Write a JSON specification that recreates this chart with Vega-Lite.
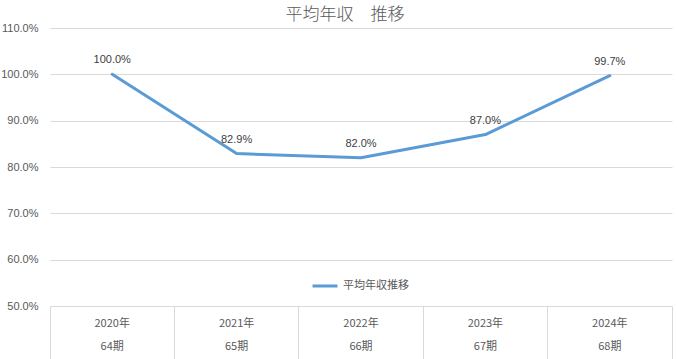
{
  "$schema": "https://vega.github.io/schema/vega-lite/v6.json",
  "width": 622,
  "height": 278,
  "autosize": {"type": "none"},
  "padding": {"left": 50, "top": 28, "right": 5, "bottom": 53},
  "background": "white",
  "title": {
    "text": "平均年収　推移",
    "font": "Noto Sans CJK JP",
    "fontSize": 17,
    "fontWeight": 300,
    "color": "#595959",
    "anchor": "middle",
    "dx": -16,
    "offset": -2
  },
  "data": {
    "values": [
      {"cat": "2020年|64期", "value": 1.000},
      {"cat": "2021年|65期", "value": 0.829},
      {"cat": "2022年|66期", "value": 0.820},
      {"cat": "2023年|67期", "value": 0.870},
      {"cat": "2024年|68期", "value": 0.997}
    ]
  },
  "layer": [
    {
      "mark": {"type": "line", "strokeWidth": 3, "strokeCap": "round", "strokeJoin": "round"},
      "encoding": {
        "x": {
          "field": "cat", "type": "ordinal", "sort": null,
          "scale": {"type": "band", "paddingInner": 0, "paddingOuter": 0},
          "axis": {
            "orient": "bottom", "title": null, "domain": false, "grid": false,
            "ticks": true, "tickSize": 53, "tickColor": "#d9d9d9", "tickWidth": 1,
            "bandPosition": 0,
            "labelExpr": "split(datum.value, '|')",
            "labelLineHeight": 23,
            "labelPadding": -42,
            "labelAngle": 0,
            "labelBaseline": "top",
            "labelColor": "#595959",
            "labelFont": "Noto Sans CJK JP",
            "labelFontSize": 11
          }
        },
        "y": {
          "field": "value", "type": "quantitative",
          "scale": {"domain": [0.5, 1.1], "nice": false, "zero": false},
          "axis": {
            "title": null, "domain": false, "ticks": false, "grid": true,
            "gridColor": "#d9d9d9", "gridWidth": 1,
            "values": [0.5, 0.6, 0.7, 0.8, 0.9, 1.0, 1.1],
            "format": ".1%",
            "labelPadding": 12,
            "labelColor": "#595959",
            "labelFont": "Liberation Sans",
            "labelFontSize": 11
          }
        },
        "color": {
          "datum": "平均年収推移",
          "type": "nominal",
          "scale": {"range": ["#5B9BD5"]},
          "legend": {
            "title": null,
            "orient": "none",
            "legendX": 261,
            "legendY": 244,
            "symbolType": "stroke",
            "symbolSize": 625,
            "symbolStrokeWidth": 3,
            "labelColor": "#595959",
            "labelFont": "Noto Sans CJK JP",
            "labelFontSize": 11,
            "labelOffset": 4
          }
        }
      }
    },
    {
      "mark": {"type": "text", "dy": -14, "color": "#404040", "font": "Liberation Sans", "fontSize": 11},
      "encoding": {
        "x": {"field": "cat", "type": "ordinal", "sort": null, "axis": null},
        "y": {"field": "value", "type": "quantitative"},
        "text": {"field": "value", "type": "quantitative", "format": ".1%"}
      }
    },
    {
      "mark": {"type": "rule", "opacity": 0},
      "encoding": {
        "x": {
          "field": "cat", "type": "ordinal", "sort": null,
          "axis": {
            "orient": "bottom", "title": null, "domain": false, "grid": false,
            "labels": false, "ticks": true, "tickSize": 53, "tickColor": "#d9d9d9",
            "tickWidth": 1, "bandPosition": 1
          }
        }
      }
    }
  ],
  "resolve": {"axis": {"x": "independent"}},
  "config": {"view": {"stroke": null}}
}
